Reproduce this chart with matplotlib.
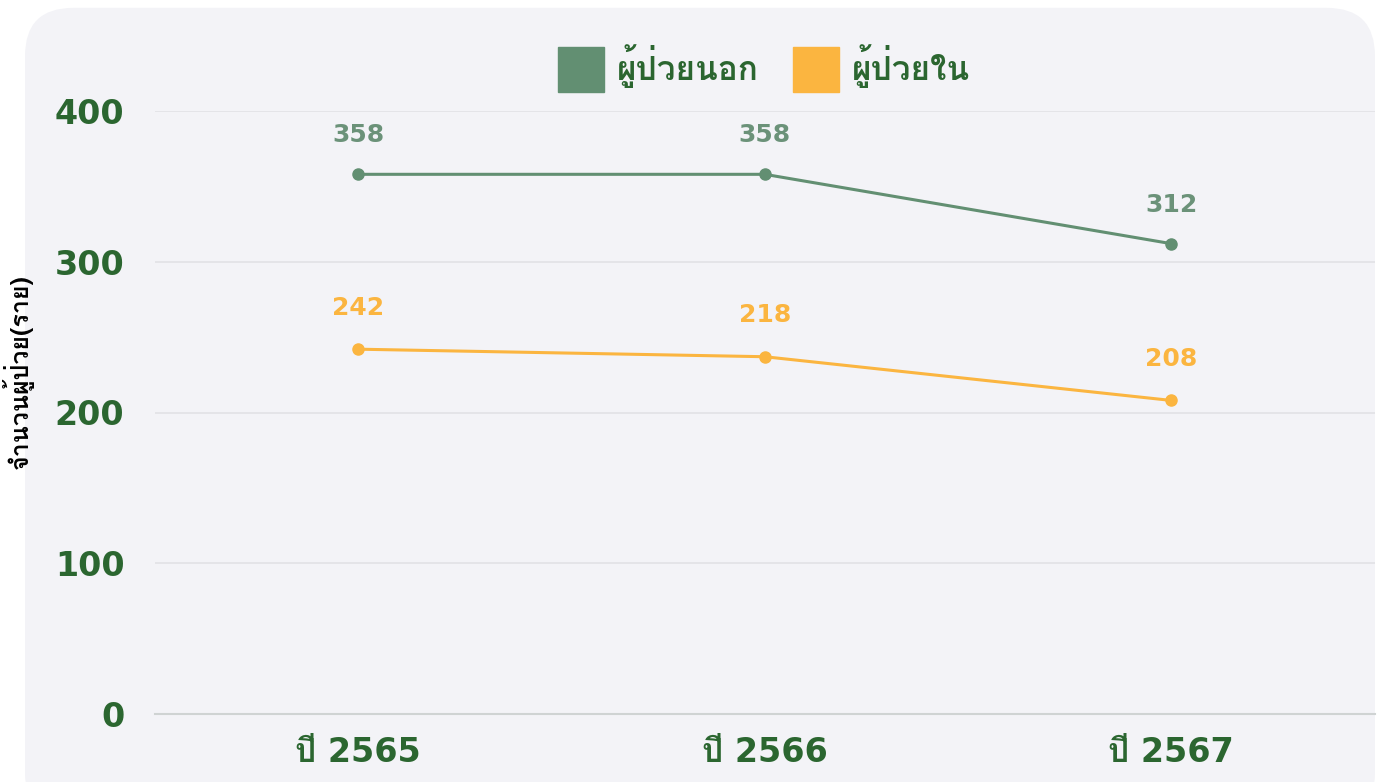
import matplotlib
matplotlib.use("Agg")
import matplotlib.pyplot as plt
from matplotlib import font_manager
from matplotlib.ft2font import FT2Font
from matplotlib.patches import FancyBboxPatch, Patch

years = ["ปี 2565", "ปี 2566", "ปี 2567"]
outpatient = [358, 358, 312]
inpatient = [242, 237, 208]
outpatient_labels = ["358", "358", "312"]
inpatient_labels = ["242", "218", "208"]
series_names = ["ผู้ป่วยนอก", "ผู้ป่วยใน"]
y_ticks = [0, 100, 200, 300, 400]
y_title = "จำนวนผู้ป่วย(ราย)"

# find a font that has Thai glyphs
thai_fonts = []
for f in font_manager.fontManager.ttflist:
    try:
        cm = FT2Font(f.fname).get_charmap()
    except Exception:
        continue
    if 0x0E1C in cm and f.name not in thai_fonts:
        thai_fonts.append(f.name)
plt.rcParams["font.family"] = ["DejaVu Sans"] + thai_fonts[:1]

GREEN = "#628f72"
YELLOW = "#fbb540"
DARK = "#2b6630"

fig = plt.figure(figsize=(13.78, 7.82), dpi=100)
fig.patch.set_facecolor("white")
bg = FancyBboxPatch((25 / 1378, -0.05), 1350 / 1378, 1.04, transform=fig.transFigure,
                    boxstyle="round,pad=0,rounding_size=0.035", facecolor="#f3f3f7",
                    edgecolor="none", mutation_aspect=1378 / 782, zorder=-10)
fig.add_artist(bg)

ax = fig.add_axes([155 / 1378, 1 - 714 / 782, 1219.5 / 1378, 603 / 782])
ax.set_zorder(1)
ax.set_facecolor("none")
x = range(len(years))
ax.plot(x, outpatient, color=GREEN, lw=2.2, marker="o", ms=8, zorder=3, clip_on=False)
ax.plot(x, inpatient, color=YELLOW, lw=2.2, marker="o", ms=8, zorder=3, clip_on=False)

for i in x:
    ax.annotate(outpatient_labels[i], (i, outpatient[i]), xytext=(0, 28), textcoords="offset points",
                ha="center", va="center", fontsize=18, fontweight="bold", color="#6b9279")
    ax.annotate(inpatient_labels[i], (i, inpatient[i]), xytext=(0, 30), textcoords="offset points",
                ha="center", va="center", fontsize=18, fontweight="bold", color=YELLOW)

ax.set_xlim(-0.5, 2.5)
ax.set_ylim(0, 400)
ax.set_yticks(y_ticks)
ax.set_xticks(list(x))
ax.set_xticklabels(years)
ax.tick_params(length=0)
ax.tick_params(axis="y", pad=22, labelsize=24, labelcolor=DARK)
ax.tick_params(axis="x", pad=16, labelsize=24, labelcolor=DARK)
for lbl in ax.get_xticklabels() + ax.get_yticklabels():
    lbl.set_fontweight("bold")
ax.grid(axis="y", color="#e2e2e6", lw=1.2)
for s in ["top", "right", "left"]:
    ax.spines[s].set_visible(False)
ax.spines["bottom"].set_color("#cfd3d3")
ax.spines["bottom"].set_linewidth(1.5)
ax.set_axisbelow(True)

fig.text(18 / 1378, 1 - 372 / 782, y_title, rotation=90, ha="center", va="center",
         fontsize=18, fontweight="bold", color="black",
         family=thai_fonts[:1] + ["DejaVu Sans"])

handles = [Patch(color=GREEN), Patch(color=YELLOW)]
leg = fig.legend(handles, series_names, loc="center", bbox_to_anchor=(764 / 1378, 1 - 68 / 782),
                 ncol=2, frameon=False, handlelength=1.38, handleheight=1.7, handletextpad=0.4,
                 columnspacing=1.0, prop={"size": 24, "weight": "bold"})
for t in leg.get_texts():
    t.set_color(DARK)

fig.savefig("out.png", dpi=100)
